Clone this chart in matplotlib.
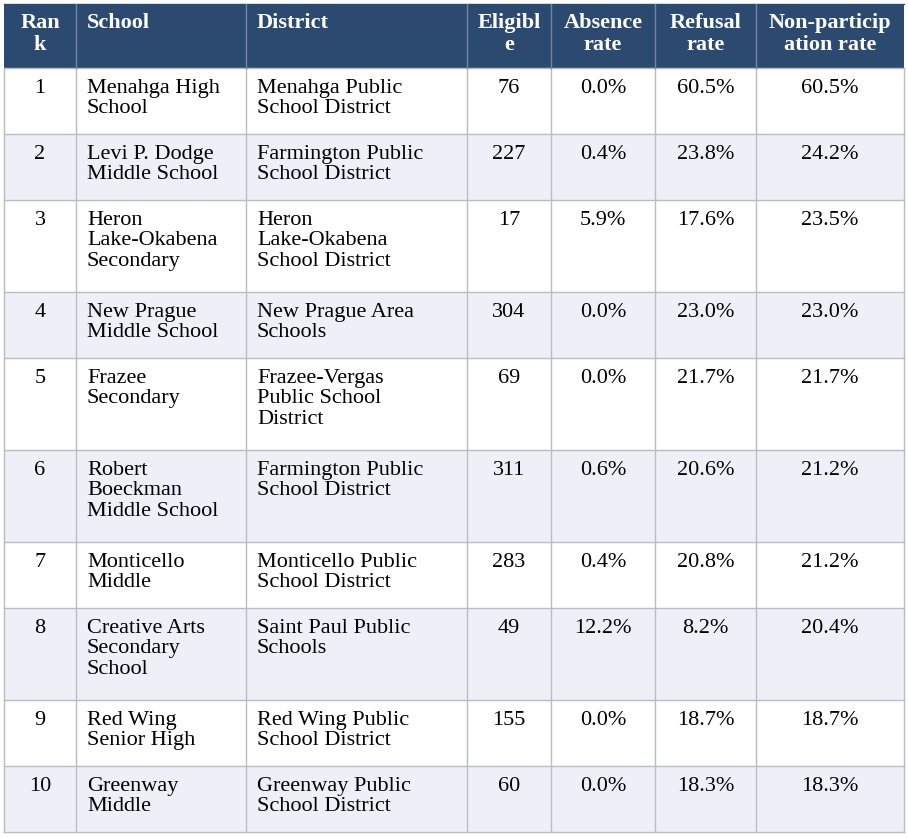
import matplotlib
matplotlib.use("Agg")
import matplotlib.pyplot as plt
from matplotlib.patches import Rectangle

headers = ["Ran\nk", "School", "District", "Eligibl\ne", "Absence\nrate", "Refusal\nrate", "Non-particip\nation rate"]
ranks = ["1", "2", "3", "4", "5", "6", "7", "8", "9", "10"]
schools = ["Menahga High\nSchool", "Levi P. Dodge\nMiddle School", "Heron\nLake-Okabena\nSecondary",
           "New Prague\nMiddle School", "Frazee\nSecondary", "Robert\nBoeckman\nMiddle School",
           "Monticello\nMiddle", "Creative Arts\nSecondary\nSchool", "Red Wing\nSenior High", "Greenway\nMiddle"]
districts = ["Menahga Public\nSchool District", "Farmington Public\nSchool District", "Heron\nLake-Okabena\nSchool District",
             "New Prague Area\nSchools", "Frazee-Vergas\nPublic School\nDistrict", "Farmington Public\nSchool District",
             "Monticello Public\nSchool District", "Saint Paul Public\nSchools", "Red Wing Public\nSchool District",
             "Greenway Public\nSchool District"]
eligible = ["76", "227", "17", "304", "69", "311", "283", "49", "155", "60"]
absence = ["0.0%", "0.4%", "5.9%", "0.0%", "0.0%", "0.6%", "0.4%", "12.2%", "0.0%", "0.0%"]
refusal = ["60.5%", "23.8%", "17.6%", "23.0%", "21.7%", "20.6%", "20.8%", "8.2%", "18.7%", "18.3%"]
nonpart = ["60.5%", "24.2%", "23.5%", "23.0%", "21.7%", "21.2%", "21.2%", "20.4%", "18.7%", "18.3%"]

W, H = 908, 838
col_edges = [4, 76, 246, 467, 551, 655, 756, 904]
aligns = ["center", "left", "left", "center", "center", "center", "center"]

fig = plt.figure(figsize=(W/100, H/100), dpi=100)
ax = fig.add_axes([0, 0, 1, 1])
ax.set_xlim(0, W); ax.set_ylim(H, 0); ax.axis("off")

font = "Liberation Serif"
fs = 16
LS = 1.1

def draw_row(y0, h, vals, bg, color, bold):
    ax.add_patch(Rectangle((col_edges[0], y0), col_edges[-1]-col_edges[0], h, facecolor=bg, edgecolor="none"))
    for i, v in enumerate(vals):
        l, r = col_edges[i], col_edges[i+1]
        if aligns[i] == "left":
            x, ha = l + 11, "left"
        else:
            x, ha = (l + r) / 2, "center"
        ax.text(x, y0 + (9 if bold else 11), v, ha=ha, va="top", fontsize=fs, family=font,
                color=color, fontweight="bold" if bold else "normal", linespacing=LS, multialignment=ha)

y = 4
hh = 64
draw_row(y, hh, headers, "#2c4a70", "white", True)
row_tops = [y]
y += hh
for k in range(len(ranks)):
    vals = [ranks[k], schools[k], districts[k], eligible[k], absence[k], refusal[k], nonpart[k]]
    n = max(v.count("\n") + 1 for v in vals)
    h = 14 + 26 * n
    bg = "white" if k % 2 == 0 else "#edf1f7"
    draw_row(y, h, vals, bg, "black", False)
    row_tops.append(y)
    y += h
row_tops.append(y)

gc = "#b8bcc4"
for yy in row_tops[1:]:
    ax.plot([col_edges[0], col_edges[-1]], [yy, yy], color=gc, lw=1)
ax.plot([col_edges[0], col_edges[-1]], [row_tops[0], row_tops[0]], color="#2c4a70", lw=1)
for xx in col_edges:
    ax.plot([xx, xx], [row_tops[1], y], color=gc, lw=1)
for xx in col_edges[1:-1]:
    ax.plot([xx, xx], [row_tops[0], row_tops[1]], color="#6f86a6", lw=1)

fig.savefig("out.png", dpi=100, facecolor="white")
